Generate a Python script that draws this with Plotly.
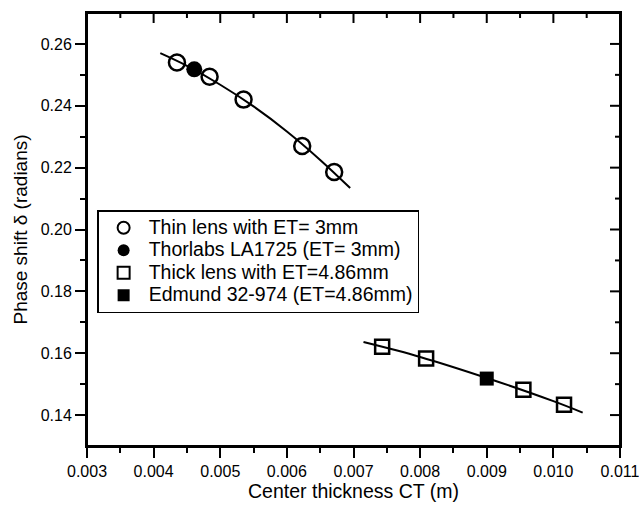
import plotly.graph_objects as go

# Thin lens (ET = 3 mm)
thin_ct = [0.00435, 0.00484, 0.00535, 0.00623, 0.00671]
thin_delta = [0.2540, 0.2494, 0.2420, 0.2270, 0.2186]
# Thorlabs LA1725
thor_ct = [0.00461]
thor_delta = [0.2518]
# Thin-lens fit curve
thin_fit_ct = [0.00410, 0.00450, 0.00500, 0.00550, 0.00600, 0.00650, 0.00695]
thin_fit_delta = [0.2570, 0.2529, 0.2468, 0.2398, 0.2317, 0.2225, 0.2134]

# Thick lens (ET = 4.86 mm)
thick_ct = [0.00743, 0.00809, 0.00955, 0.01016]
thick_delta = [0.1621, 0.1583, 0.1482, 0.1433]
# Edmund 32-974
edm_ct = [0.00900]
edm_delta = [0.1518]
# Thick-lens fit curve
thick_fit_ct = [0.00715, 0.00800, 0.00900, 0.01000, 0.01044]
thick_fit_delta = [0.1636, 0.1588, 0.1520, 0.1445, 0.1408]

x_ticks = [0.003, 0.004, 0.005, 0.006, 0.007, 0.008, 0.009, 0.010, 0.011]
x_tick_labels = ["0.003", "0.004", "0.005", "0.006", "0.007", "0.008", "0.009", "0.010", "0.011"]
x_minor_ticks = [0.0035, 0.0045, 0.0055, 0.0065, 0.0075, 0.0085, 0.0095, 0.0105]
y_ticks = [0.14, 0.16, 0.18, 0.20, 0.22, 0.24, 0.26]
y_tick_labels = ["0.14", "0.16", "0.18", "0.20", "0.22", "0.24", "0.26"]
y_minor_ticks = [0.15, 0.17, 0.19, 0.21, 0.23, 0.25]

legend_names = ["Thin lens with ET= 3mm", "Thorlabs LA1725 (ET= 3mm)",
                "Thick lens with ET=4.86mm", "Edmund 32-974 (ET=4.86mm)"]

FONT = "Liberation Sans, Arial, sans-serif"
XR = [0.0029999, 0.0110001]
YR = [0.13, 0.27]
MAJOR_LEN = 10
MINOR_LEN = 5


def lg(name):
    return '<span style="font-size:19.5px">' + name + '</span>'


fig = go.Figure()
fig.add_trace(go.Scatter(x=thin_fit_ct, y=thin_fit_delta, mode="lines", line=dict(color="black", width=2, shape="spline"),
                         showlegend=False, hoverinfo="skip"))
fig.add_trace(go.Scatter(x=thick_fit_ct, y=thick_fit_delta, mode="lines", line=dict(color="black", width=2, shape="spline"),
                         showlegend=False, hoverinfo="skip"))
fig.add_trace(go.Scatter(x=thin_ct, y=thin_delta, mode="markers", name=lg(legend_names[0]),
                         marker=dict(symbol="circle-open", size=16, color="black", line=dict(width=2.5, color="black"))))
fig.add_trace(go.Scatter(x=thor_ct, y=thor_delta, mode="markers", name=lg(legend_names[1]),
                         marker=dict(symbol="circle", size=16, color="black")))
fig.add_trace(go.Scatter(x=thick_ct, y=thick_delta, mode="markers", name=lg(legend_names[2]),
                         marker=dict(symbol="square-open", size=14, color="black", line=dict(width=2.5, color="black"))))
fig.add_trace(go.Scatter(x=edm_ct, y=edm_delta, mode="markers", name=lg(legend_names[3]),
                         marker=dict(symbol="square", size=14, color="black")))

axis_common = dict(showgrid=False, zeroline=False, showline=True, linecolor="black", linewidth=2,
                   tickcolor="black", tickwidth=2, ticklen=MAJOR_LEN, mirror=True, automargin=False)

# frame + inward ticks on the top and right edges (positions from the tick lists)
shapes = [dict(type="rect", xref="paper", yref="paper", x0=0, x1=1, y0=0, y1=1,
               line=dict(color="black", width=2), fillcolor="rgba(0,0,0,0)", layer="above")]
for v, L in [(t, MAJOR_LEN) for t in x_ticks[1:-1]] + [(t, MINOR_LEN) for t in x_minor_ticks]:
    shapes.append(dict(type="line", xref="x", yref="paper", x0=v, x1=v, ysizemode="pixel", yanchor=1,
                       y0=0, y1=-L, line=dict(color="black", width=2), layer="above"))
for v, L in [(t, MAJOR_LEN) for t in y_ticks] + [(t, MINOR_LEN) for t in y_minor_ticks]:
    shapes.append(dict(type="line", xref="paper", yref="y", y0=v, y1=v, xsizemode="pixel", xanchor=1,
                       x0=0, x1=-L, line=dict(color="black", width=2), layer="above"))

fig.update_layout(
    width=639, height=510,
    margin=dict(l=87, r=19, t=13, b=64),
    paper_bgcolor="white", plot_bgcolor="white",
    font=dict(family=FONT, color="black", size=16),
    xaxis=dict(range=XR, tickvals=x_ticks, ticktext=x_tick_labels, ticks="outside", ticklabeloverflow="allow",
               tickfont=dict(size=16, family=FONT),
               title=dict(text="Center thickness CT (m)", font=dict(size=19.5, family=FONT), standoff=0),
               minor=dict(tickvals=x_minor_ticks, ticklen=MINOR_LEN, tickwidth=2, tickcolor="black", ticks="outside"),
               **axis_common),
    yaxis=dict(range=YR, tickvals=y_ticks, ticktext=y_tick_labels, ticks="outside", ticklabeloverflow="allow",
               tickfont=dict(size=16, family=FONT),
               title=dict(text="Phase shift δ (radians)", font=dict(size=19, family=FONT), standoff=8),
               minor=dict(tickvals=y_minor_ticks, ticklen=MINOR_LEN, tickwidth=2, tickcolor="black", ticks="outside"),
               **axis_common),
    shapes=shapes,
    legend=dict(x=0.019, y=0.545, xanchor="left", yanchor="top", bgcolor="white", bordercolor="black", borderwidth=1.5,
                font=dict(size=15, family=FONT, color="black"), itemsizing="constant", itemwidth=40, tracegroupgap=0),
    showlegend=True,
)

fig.write_html("out.html", config={"displayModeBar": False},
               post_script="document.body.style.margin='0';document.body.style.overflow='hidden';")
